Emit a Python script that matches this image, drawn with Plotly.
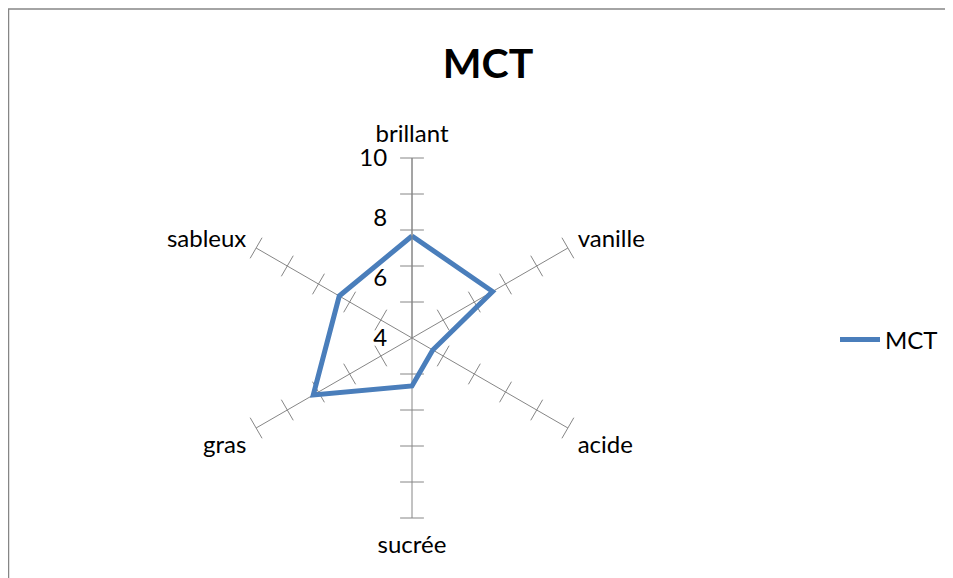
import plotly.graph_objects as go

categories = ["brillant", "vanille", "acide", "sucrée", "gras", "sableux"]
mct_values = [7.4, 7.1, 4.8, 5.6, 7.8, 6.8]
radial_tickvals = [4, 6, 8, 10]
radial_min, radial_max = 4, 10
n_tick_intervals = 5  # cross tick marks on each spoke (Excel style)

FONT = "Lato, 'Liberation Sans', sans-serif"
GRAY = "#868686"
BLUE = "#4a7ebb"
OFF = 8  # page body margin offset

fig = go.Figure()

# cross tick marks along every spoke
step = (radial_max - radial_min) / n_tick_intervals
tick_r, tick_theta, tick_angle = [], [], []
for i, c in enumerate(categories):
    for k in range(1, n_tick_intervals + 1):
        tick_r.append(radial_min + k * step)
        tick_theta.append(c)
        tick_angle.append(i * 360 / len(categories))
fig.add_trace(go.Scatterpolar(
    r=tick_r, theta=tick_theta, mode="markers",
    marker=dict(symbol="line-ew", size=17, angle=tick_angle,
                line=dict(color=GRAY, width=1)),
    hoverinfo="skip", showlegend=False,
))

fig.add_trace(go.Scatterpolar(
    r=mct_values + mct_values[:1],
    theta=categories + categories[:1],
    mode="lines", name="MCT",
    line=dict(color=BLUE, width=5),
))

W, H = 953, 578
cx, cy, R = 412 - OFF, 338 - OFF, 180
fig.update_layout(
    width=W, height=H,
    margin=dict(l=0, r=0, t=0, b=0),
    paper_bgcolor="white",
    font=dict(family=FONT, color="black", size=24),
    title=dict(text="<b>MCT</b>", x=(488 - OFF) / W, xanchor="center",
               y=1 - (64 - OFF) / H, yanchor="middle",
               font=dict(size=41, family=FONT, color="black")),
    polar=dict(
        domain=dict(x=[(cx - R) / W, (cx + R) / W],
                    y=[(H - cy - R) / H, (H - cy + R) / H]),
        bgcolor="white",
        angularaxis=dict(
            direction="clockwise", rotation=90, type="category",
            categoryorder="array", categoryarray=categories,
            showline=False, showgrid=True, gridcolor=GRAY, gridwidth=1,
            ticks="outside", ticklen=6, tickcolor="rgba(0,0,0,0)",
            tickfont=dict(size=24, family=FONT, color="black"),
        ),
        radialaxis=dict(
            range=[radial_min, radial_max], angle=90, side="counterclockwise",
            tickvals=radial_tickvals, showgrid=False,
            showline=True, linecolor=GRAY, linewidth=1,
            ticks="outside", ticklen=16, tickcolor="rgba(0,0,0,0)",
            tickangle=90,
            tickfont=dict(size=24, family=FONT, color="black"),
        ),
    ),
    legend=dict(x=(835 - OFF) / W, y=1 - (340 - OFF) / H,
                xanchor="left", yanchor="middle", itemwidth=40,
                font=dict(size=24, family=FONT, color="black"),
                bgcolor="rgba(0,0,0,0)"),
    shapes=[dict(type="rect", xref="paper", yref="paper",
                 x0=0.5 / W, x1=1.02, y0=-0.02, y1=1 - 1 / H,
                 line=dict(color=GRAY, width=1.5), fillcolor="rgba(0,0,0,0)",
                 layer="below")],
)

fig.write_html("out.html")
